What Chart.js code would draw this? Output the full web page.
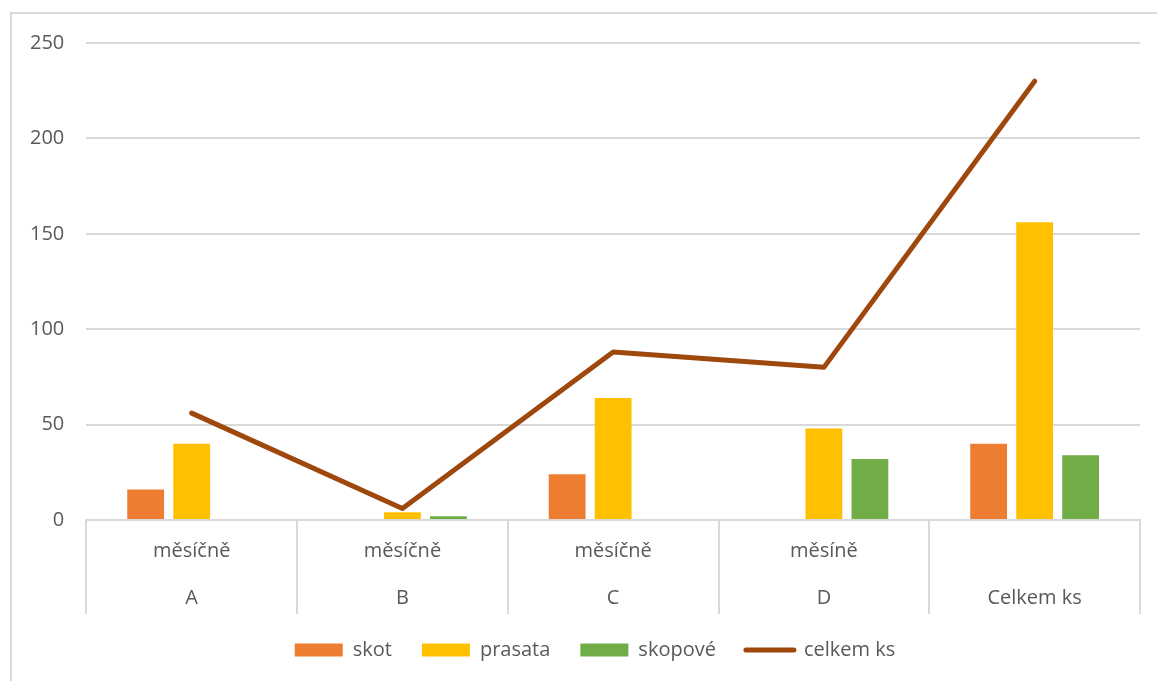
<!DOCTYPE html>
<html>
<head>
<meta charset="utf-8">
<script src="https://cdn.jsdelivr.net/npm/chart.js@4/dist/chart.umd.min.js"></script>
<style>
  html, body { margin: 0; padding: 0; background: #fff; }
  #wrap { position: relative; width: 1157px; height: 681px; overflow: hidden; }
  #frame {
    position: absolute; left: 10px; top: 12px; right: 0; bottom: 0;
    border-top: 2px solid #d9d9d9; border-left: 2px solid #d9d9d9;
  }
  #chart { position: absolute; left: 0; top: 0; }
</style>
</head>
<body>
<div id="wrap">
  <div id="frame"></div>
  <canvas id="chart" width="1157" height="681"></canvas>
</div>
<script>
// ====================== Data ======================
const groupLabels = ["měsíčně", "měsíčně", "měsíčně", "měsíně", ""];
const categoryLabels = ["A", "B", "C", "D", "Celkem ks"];
const skot = [16, null, 24, null, 40];
const prasata = [40, 4, 64, 48, 156];
const skopove = [null, 2, null, 32, 34];
const celkemKs = [56, 6, 88, 80, 230];
const yTicks = [0, 50, 100, 150, 200, 250];

const TEXT = "#595959";
const GRID = "#d9d9d9";
const FONT = { family: "'Open Sans', sans-serif", size: 20 };

const labels = categoryLabels.map((c, i) => [groupLabels[i], c]);

// ── separators between the categories, below the axis ──
const categorySeparators = {
  id: "categorySeparators",
  afterLayout(chart) {
    // nudge the legend a little to the right, like the original
    chart.legend.left += 21;
    chart.legend.right += 21;
  },
  afterDraw(chart) {
    const x = chart.scales.x;
    const ctx = chart.ctx;
    const top = chart.chartArea.bottom;
    const bottom = x.bottom + 4;
    ctx.save();
    ctx.strokeStyle = GRID;
    ctx.lineWidth = 2;
    for (let i = 0; i <= labels.length; i++) {
      const px = Math.round(x.getPixelForValue(i - 0.5));
      ctx.beginPath();
      ctx.moveTo(px, top);
      ctx.lineTo(px, bottom);
      ctx.stroke();
    }
    ctx.restore();
  }
};

// ====================== Chart ======================
const barCommon = { categoryPercentage: 0.655, barPercentage: 0.8, order: 1 };

new Chart(document.getElementById("chart"), {
  type: "bar",
  data: {
    labels,
    datasets: [
      { label: "skot", data: skot, backgroundColor: "#ed7d31", ...barCommon },
      { label: "prasata", data: prasata, backgroundColor: "#ffc000", ...barCommon },
      { label: "skopové", data: skopove, backgroundColor: "#70ad47", ...barCommon },
      {
        type: "line", label: "celkem ks", data: celkemKs,
        borderColor: "#9e480e", backgroundColor: "#9e480e",
        borderWidth: 5, pointRadius: 0, tension: 0, order: 0,
        borderCapStyle: "round", borderJoinStyle: "round"
      }
    ]
  },
  plugins: [categorySeparators],
  options: {
    responsive: false,
    animation: false,
    layout: { padding: { left: 8, right: 17, top: 43, bottom: 11 } },
    plugins: {
      tooltip: { enabled: false },
      legend: {
        position: "bottom",
        labels: {
          color: TEXT,
          font: FONT,
          usePointStyle: true,
          pointStyleWidth: 48,
          boxHeight: 13,
          padding: 30,
          sort: (a, b) => a.datasetIndex - b.datasetIndex,
          generateLabels(chart) {
            const items = Chart.defaults.plugins.legend.labels.generateLabels(chart);
            return items.map(it => {
              if (it.datasetIndex === 3) {
                it.pointStyle = "line";
                it.lineWidth = 5;
                it.lineCap = "round";
                it.strokeStyle = "#9e480e";
              } else {
                it.pointStyle = "rect";
                it.lineWidth = 0;
              }
              return it;
            });
          }
        }
      }
    },
    scales: {
      x: {
        grid: { display: false, drawTicks: false },
        border: { display: true, color: GRID, width: 2 },
        afterFit: s => { s.height -= 20; },
        ticks: {
          color: TEXT,
          font: { ...FONT, lineHeight: 2.35 },
          padding: 8,
          maxRotation: 0,
          autoSkip: false
        }
      },
      y: {
        min: 0,
        max: 250,
        afterBuildTicks: s => { s.ticks = yTicks.map(v => ({ value: v })); },
        grid: { color: GRID, lineWidth: 2, drawTicks: false },
        border: { display: false },
        ticks: { color: TEXT, font: FONT, padding: 22 }
      }
    }
  }
});
</script>
</body>
</html>
